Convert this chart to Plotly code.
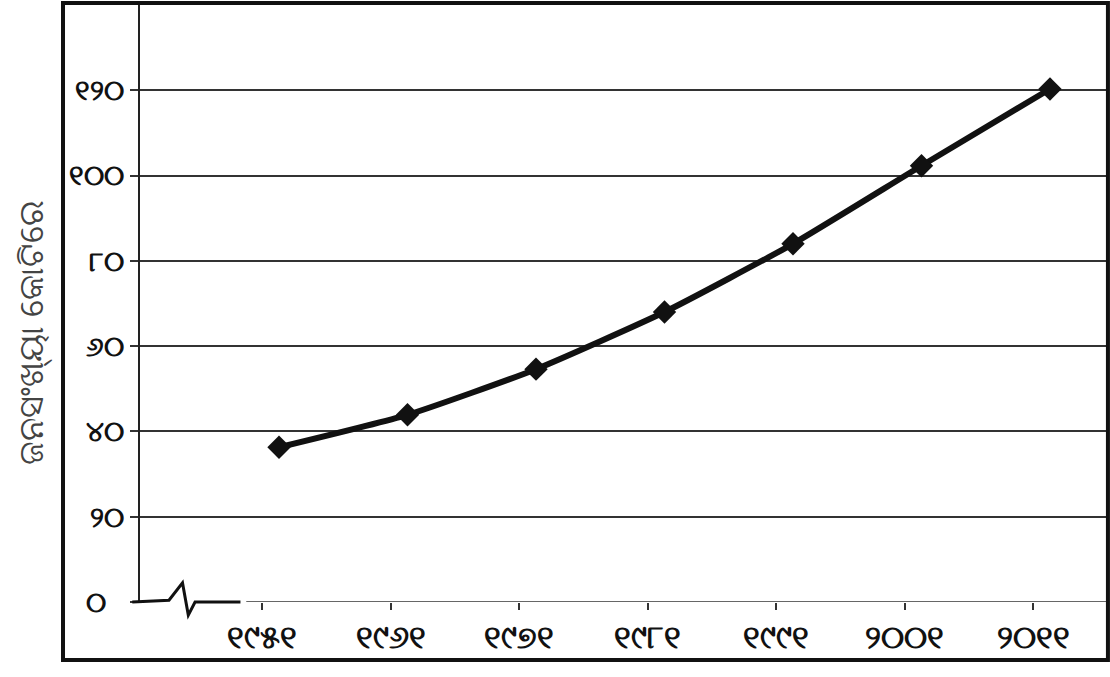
import plotly.graph_objects as go

# Census years and population (crore)
years = [1951, 1961, 1971, 1981, 1991, 2001, 2011]
population = [36.3, 43.9, 54.6, 68.0, 84.0, 102.3, 120.3]
year_labels = ["୧୯୫୧", "୧୯୬୧", "୧୯୭୧", "୧୯୮୧", "୧୯୯୧", "୨୦୦୧", "୨୦୧୧"]
y_ticks = [0, 20, 40, 60, 80, 100, 120]
y_labels = ["୦\u2002\u2009", "୨୦", "୪୦", "୬୦", "୮୦", "୧୦୦", "୧୨୦"]
y_title = "ଜନସଂଖ୍ୟା କୋଟିରେ"

FONT = "Noto Sans, DejaVu Sans, sans-serif"
INK = "#111111"

fig = go.Figure()
fig.add_trace(go.Scatter(
    x=years, y=population, mode="lines+markers",
    line=dict(color=INK, width=6, shape="spline", smoothing=0.5),
    marker=dict(symbol="diamond", size=18, color=INK),
    showlegend=False, hoverinfo="skip",
))

# x tick marks sit a little before each census point
tick_x = [y - 1.3 for y in years]

fig.update_layout(
    width=1110, height=677,
    margin=dict(l=140, r=4, t=5, b=75),
    paper_bgcolor="white", plot_bgcolor="white",
    font=dict(family=FONT, color=INK),
    xaxis=dict(
        range=[1940.18, 2015.36], showgrid=False, zeroline=False,
        showline=False, tickmode="array", tickvals=tick_x, ticktext=year_labels,
        ticks="outside", ticklen=7, tickwidth=1.5, tickcolor="#333",
        tickfont=dict(size=32, color=INK, family=FONT, weight="bold"),
    ),
    yaxis=dict(
        range=[0, 140], showgrid=True, gridcolor="#333", gridwidth=1.5,
        zeroline=False, showline=True, linecolor="#222", linewidth=2,
        tickmode="array", tickvals=y_ticks, ticktext=y_labels,
        ticks="outside", ticklen=8, tickwidth=1.5, tickcolor="#333",
        tickfont=dict(size=28, color=INK, family=FONT, weight="bold"),
    ),
)

# x axis line with a break mark near the origin
fig.add_shape(type="line", xref="paper", yref="y", x0=0.11, x1=1, y0=0, y1=0,
              line=dict(color="#333", width=1.5))
fig.add_shape(type="path", xref="paper", yref="paper",
              path="M -0.008,0 L 0.03,0.003 L 0.044,0.032 L 0.05,-0.022 L 0.057,0 L 0.104,0",
              line=dict(color=INK, width=3))

# outer frame
fig.add_shape(type="rect", xref="paper", yref="paper",
              x0=-0.0797, x1=1.002, y0=-0.0972, y1=1.0034,
              line=dict(color=INK, width=4), fillcolor="rgba(0,0,0,0)")

fig.add_annotation(
    text=y_title, xref="paper", yref="paper", x=-0.114, y=0.452,
    xanchor="center", yanchor="middle",
    textangle=-90, showarrow=False,
    font=dict(size=34, color="#444", family=FONT),
)

fig.write_html("out.html")
